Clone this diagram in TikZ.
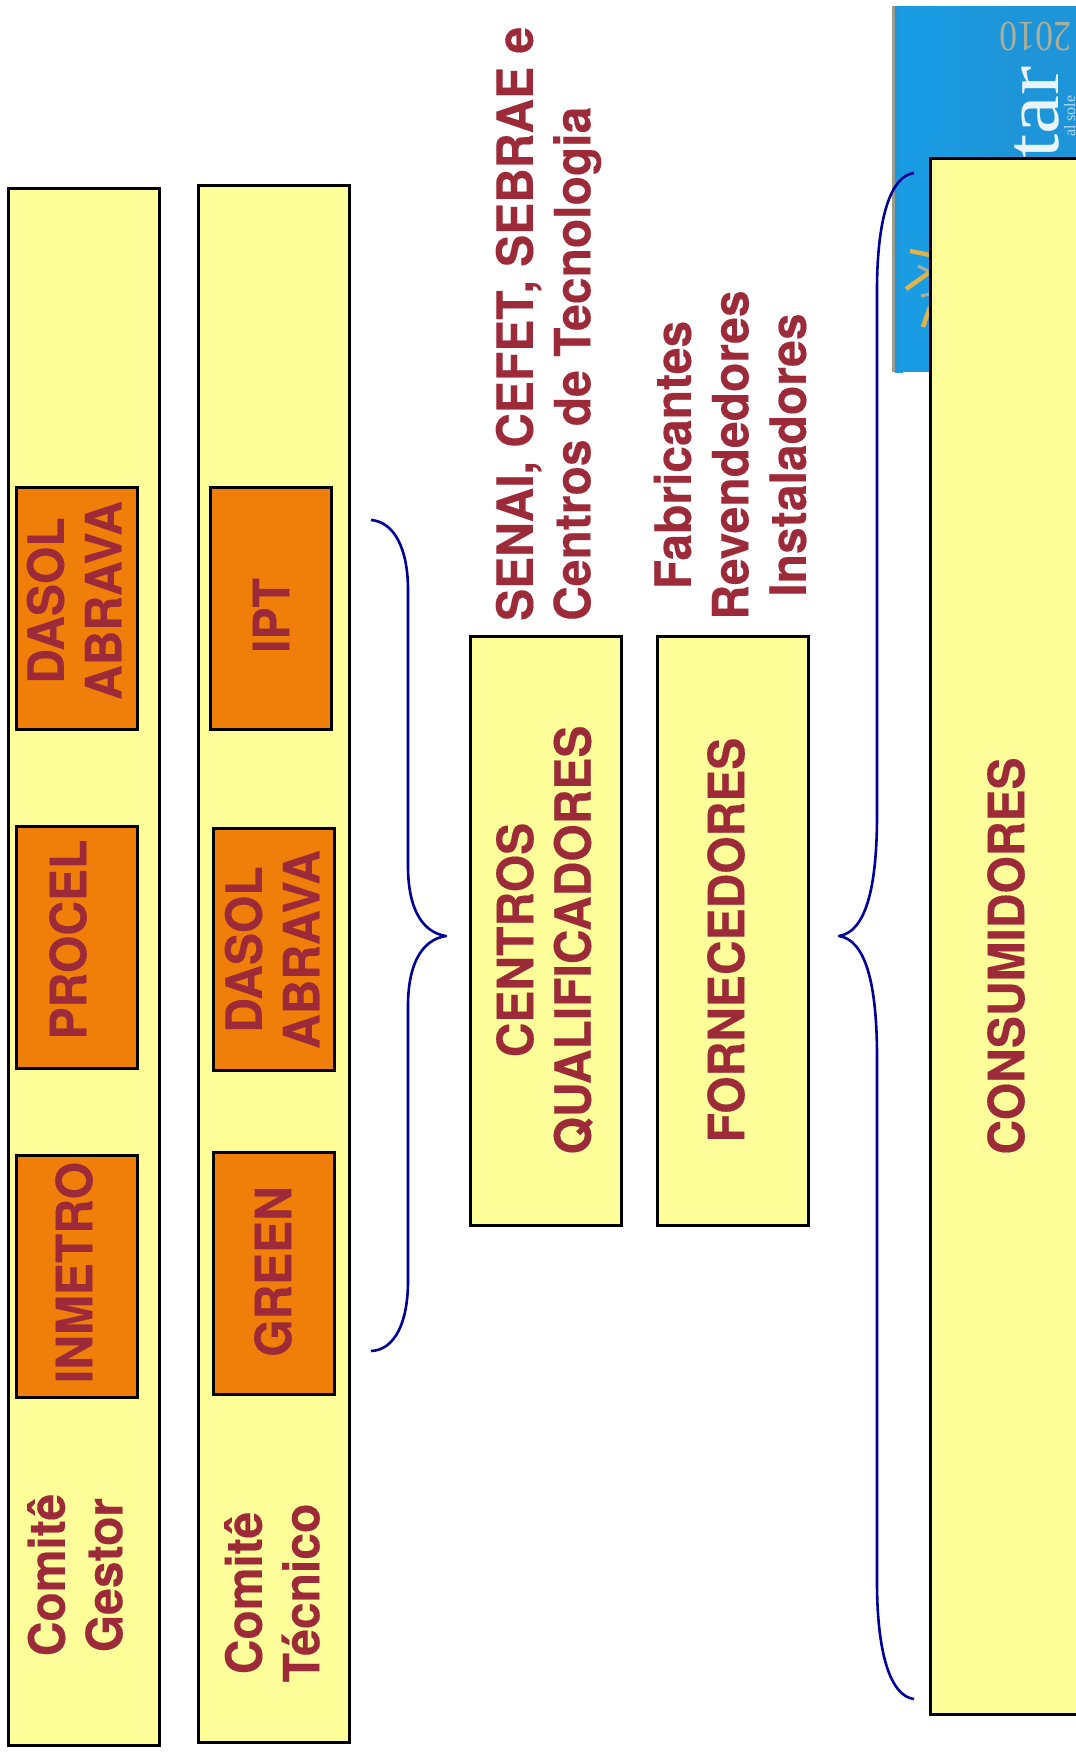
\documentclass[tikz,border=0pt]{standalone}
\usepackage{fontspec}
\setmainfont{TeX Gyre Heros}[FakeStretch=0.96,FakeBold=0.25]
\newfontfamily\serifimg{Liberation Serif}
\definecolor{boxyellow}{HTML}{FFFF99}
\definecolor{boxorange}{HTML}{F07F09}
\definecolor{labelred}{HTML}{9C2A38}
\definecolor{bracenavy}{HTML}{000099}
\definecolor{imgblue}{HTML}{1E95D8}
\definecolor{imgband}{HTML}{1A9CE2}
\definecolor{imggold}{HTML}{E0B24C}
\definecolor{imggray}{HTML}{A8AF9C}
\definecolor{imgedge}{HTML}{9A9C90}
\tikzset{
  panel/.style={draw=black,line width=3pt,fill=boxyellow,inner sep=0pt,anchor=north west},
  orangebox/.style={draw=black,line width=3pt,fill=boxorange,inner sep=0pt,anchor=north west},
  lab/.style={text=labelred,font=\fontsize{50}{57.5}\selectfont\bfseries,rotate=90,align=center,inner sep=0pt},
  labl/.style={lab,align=left},
  bracecurve/.style={draw=bracenavy,line width=2.6pt,line join=round},
  goldmark/.style={draw=imggold,line width=4.5pt},
  graymark/.style={draw=imggray,line width=3pt},
}
\newcommand{\bx}[6]{\node[#1,minimum width=#4pt-#3pt,minimum height=#6pt-#5pt] (#2) at (#3pt-1pt,-#5pt+1pt) {};}
\begin{document}
\begin{tikzpicture}[x=1pt,y=1pt]
\useasboundingbox (0,0) rectangle (1076,-1754);
% picture behind the consumers panel
\begin{scope}
\clip (892,-6) rectangle (1076,-372);
\fill[imgblue] (892,-6) rectangle (1076,-372);
\shade[left color=imgband,right color=imgblue] (930,-6) rectangle (1010,-372);
\fill[imgband] (903,-6) rectangle (930,-372);
\shade[left color=imgblue,right color=imgband] (895,-6) rectangle (903,-372);
\fill[imgedge] (892,-6) rectangle (895,-372);
\node[rotate=180,text=imggray,font=\serifimg\fontsize{43}{43}\selectfont] (yeartxt) at (1035.5,-37) {\scalebox{.83}[1]{2010}};
\node[rotate=90,text=white!90!imgblue,font=\serifimg\fontsize{78}{78}\selectfont,anchor=base east] (imgtxt) at (1058,-63) {\scalebox{1.12}[1]{tar}};
\node[rotate=90,text=white!65!imgblue,font=\serifimg\fontsize{16}{16}\selectfont,anchor=base east] (imgsmall) at (1075,-92) {al sole};
\draw[goldmark] (910,-251) -- (930,-255);
\draw[goldmark] (906,-289) -- (930,-272);
\draw[goldmark] (923,-327) -- (930,-307);
\draw[graymark] (918,-266) -- (930,-272);
\draw[graymark] (921,-296) -- (930,-294);
\end{scope}
\bx{panel}{gestor}{8}{159}{188}{1745}
\bx{panel}{tecnico}{198}{349}{185}{1742}
\bx{orangebox}{g1}{16}{137}{487}{729}
\bx{orangebox}{g2}{16}{137}{826}{1068}
\bx{orangebox}{g3}{16}{137}{1155}{1397}
\bx{orangebox}{t1}{210}{331}{487}{729}
\bx{orangebox}{t2}{213}{334}{828}{1070}
\bx{orangebox}{t3}{213}{334}{1152}{1394}
\bx{panel}{centros}{470}{621}{636}{1225}
\bx{panel}{forn}{657}{808}{636}{1225}
\bx{panel}{cons}{930}{1100}{158}{1714}
\node[lab] (gestorlab) at (75,-1575) {Comitê\\Gestor};
\node[lab] (tecnicolab) at (272,-1593) {Comitê\\Técnico};
\node[xshift=-3pt,yshift=8pt,lab] (g1lab) at (g1) {DASOL\\ABRAVA};
\node[xshift=-9pt,yshift=8pt,lab] (g2lab) at (g2) {PROCEL};
\node[xshift=-3pt,yshift=4pt,lab] (g3lab) at (g3) {INMETRO};
\node[yshift=-7pt,lab] (t1lab) at (t1) {IPT};
\node[xshift=-2pt,lab] (t2lab) at (t2) {DASOL\\ABRAVA};
\node[xshift=-1pt,yshift=2pt,lab] (t3lab) at (t3) {GREEN};
\node[xshift=-1.5pt,yshift=-9pt,lab] (centroslab) at (centros) {CENTROS\\QUALIFICADORES};
\node[xshift=-7pt,yshift=-9pt,lab] (fornlab) at (forn) {FORNECEDORES};
\node[lab] (conslab) at (1006,-956) {CONSUMIDORES};
\node[labl,anchor=west] (senai) at (548.5,-621) {SENAI, CEFET, SEBRAE e\\Centros de Tecnologia};
\node[lab,anchor=center] (fab) at (730,-455) {Fabricantes\\Revendedores\\Instaladores};
\coordinate (b1t) at (371,-520);
\coordinate (b1tip) at (446,-936);
\coordinate (b1b) at (371,-1351);
\coordinate (b2t) at (914,-173);
\coordinate (b2tip) at (839,-936);
\coordinate (b2b) at (914,-1699);
\draw[bracecurve] (b1t) .. controls (395,-522) and (408,-550) .. (408,-590) -- (408,-866)
  .. controls (408,-905) and (420,-932) .. (b1tip) .. controls (420,-940) and (408,-967) .. (408,-1006)
  -- (408,-1281) .. controls (408,-1322) and (395,-1350) .. (b1b);
\draw[bracecurve] (b2t) .. controls (890,-176) and (877,-220) .. (877,-290) -- (877,-815)
  .. controls (877,-890) and (865,-932) .. (b2tip) .. controls (865,-940) and (877,-982) .. (877,-1057)
  -- (877,-1582) .. controls (877,-1652) and (890,-1696) .. (b2b);
\end{tikzpicture}
\end{document}
